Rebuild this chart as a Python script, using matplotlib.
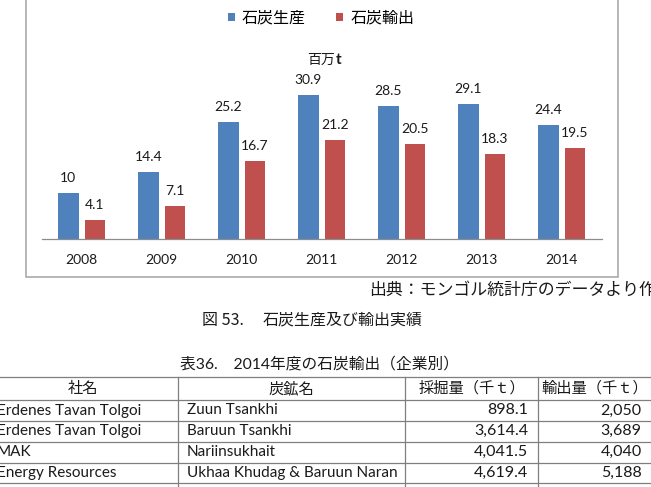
import numpy as np
import matplotlib
matplotlib.use('Agg')
import matplotlib.pyplot as plt
from matplotlib.patches import Rectangle
from matplotlib.lines import Line2D
from matplotlib.font_manager import FontProperties

# ---------------- data ----------------
years = ['2008', '2009', '2010', '2011', '2012', '2013', '2014']
production = [10, 14.4, 25.2, 30.9, 28.5, 29.1, 24.4]
exports = [4.1, 7.1, 16.7, 21.2, 20.5, 18.3, 19.5]
series_names = ['石炭生産', '石炭輸出']
unit_cjk = '百万'
unit_latin = 't'
source_note = '出典：モンゴル統計庁のデータより作成'
fig_number = '図 53.'
fig_title = '石炭生産及び輸出実績'
table_title = '表36.　2014年度の石炭輸出（企業別）'
table_header = ['社名', '炭鉱名', '採掘量（千ｔ）', '輸出量（千ｔ）']
companies = ['Erdenes Tavan Tolgoi', 'Erdenes Tavan Tolgoi', 'MAK', 'Energy Resources']
mines = ['Zuun Tsankhi', 'Baruun Tsankhi', 'Nariinsukhait', 'Ukhaa Khudag & Baruun Naran']
mined = [898.1, 3614.4, 4041.5, 4619.4]
exported = [2050, 3689, 4040, 5188]

# ---------------- style ----------------
BLUE = '#4F81BD'
RED = '#C0504D'
TXT = '#1a1a1a'
CJK = 'Noto Sans CJK JP'
LAT = 'Lato'

W, H = 651, 487
fig = plt.figure(figsize=(W / 100, H / 100), dpi=100)
fig.patch.set_facecolor('white')

# overlay in pixel coordinates (y downwards)
ov = fig.add_axes([0, 0, 1, 1])
ov.set_xlim(0, W)
ov.set_ylim(H, 0)
ov.axis('off')

# chart frame
ov.add_patch(Rectangle((25.7, -10), 618.3 - 25.7, 276.7 + 10, fill=False,
                       ec='#a3a3a3', lw=1.1))

# chart axes
ax_left, ax_right, base, top = 41.7, 601.7, 239.3, 70.0
px_per_unit = 4.665
ax = fig.add_axes([ax_left / W, 1 - base / H, (ax_right - ax_left) / W, (base - top) / H])
ax.patch.set_visible(False)
x = np.arange(len(years))
bw, off = 0.259, 0.166
b1 = ax.bar(x - off, production, bw, color=BLUE, label=series_names[0])
b2 = ax.bar(x + off, exports, bw, color=RED, label=series_names[1])
ax.set_xlim(-0.5, len(years) - 0.5)
ax.set_ylim(0, (base - top) / px_per_unit)
for s in ['top', 'left', 'right']:
    ax.spines[s].set_visible(False)
ax.spines['bottom'].set_color('#8c8c8c')
ax.spines['bottom'].set_linewidth(0.9)
ax.set_yticks([])
ax.set_xticks(x, years)
ax.tick_params(axis='x', length=0, pad=10.5, labelsize=10, labelcolor=TXT)
for lab in ax.get_xticklabels():
    lab.set_family(LAT)

for bars, vals in ((b1, production), (b2, exports)):
    for rect, v in zip(bars, vals):
        ax.annotate(f'{v:g}', (rect.get_x() + rect.get_width() / 2, v),
                    xytext=(0, 15), textcoords='offset pixels',
                    ha='center', va='center', fontsize=10, family=LAT, color=TXT)

# legend
fig.legend(handles=[b1, b2], labels=series_names, loc='center',
           bbox_to_anchor=(321 / W, 1 - 18.3 / H), ncol=2, frameon=False,
           prop=FontProperties(family=CJK, size=11.5),
           handlelength=0.44, handleheight=0.44, handletextpad=0.42,
           columnspacing=1.92, borderpad=0, borderaxespad=0)

# unit label
ov.text(307, 60, unit_cjk, ha='left', va='center', fontsize=10, family=CJK, color=TXT)
ov.text(335.5, 60, unit_latin, ha='left', va='center', fontsize=11,
        family=LAT, fontweight='bold', color=TXT)

# captions
ov.text(369, 290, source_note, ha='left', va='center', fontsize=12.2, family=CJK, color=TXT)
ov.text(202, 320, fig_number, ha='left', va='center', fontsize=11.5, family=CJK, color=TXT)
ov.text(262.7, 320, fig_title, ha='left', va='center', fontsize=11.5, family=CJK, color=TXT)

# table
ov.text(180, 364, table_title, ha='left', va='center', fontsize=11.3,
        family=[LAT, CJK], color=TXT)
col_edges = [-12, 178.3, 405, 538.3, 652]
h_lines = [376.7, 400, 421, 441.7, 462.7, 483.3]
LC = '#7f7f7f'
for yy in h_lines:
    ov.add_line(Line2D([0, W], [yy, yy], color=LC, lw=0.9))
for xx in col_edges[1:-1]:
    ov.add_line(Line2D([xx, xx], [h_lines[0], H + 5], color=LC, lw=0.9))

hy = (h_lines[0] + h_lines[1]) / 2
for i, t in enumerate(table_header):
    cx = (col_edges[i] + col_edges[i + 1]) / 2
    ov.text(cx, hy, t, ha='center', va='center', fontsize=11, family=CJK, color=TXT)

for r in range(len(companies)):
    cy = (h_lines[r + 1] + h_lines[r + 2]) / 2
    ov.text(-3, cy, companies[r], ha='left', va='center', fontsize=11, family=LAT, color=TXT)
    ov.text(186.7, cy, mines[r], ha='left', va='center', fontsize=11, family=LAT, color=TXT)
    ov.text(528.3, cy, f'{mined[r]:,.1f}', ha='right', va='center', fontsize=11.5, family=LAT, color=TXT)
    ov.text(641.7, cy, f'{exported[r]:,.0f}', ha='right', va='center', fontsize=11.5, family=LAT, color=TXT)

fig.savefig('out.png', dpi=100)
